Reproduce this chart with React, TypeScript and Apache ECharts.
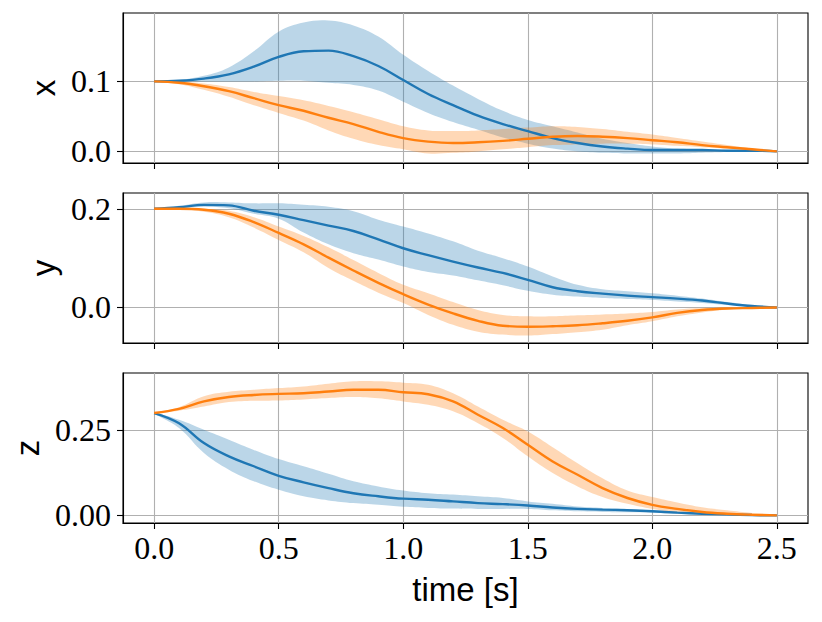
import React, { useEffect, useRef } from "react";
import * as echarts from "echarts";

// time samples [s]
const times = [0, 0.1, 0.2, 0.3, 0.4, 0.5, 0.6, 0.7, 0.8, 0.9, 1.0, 1.1, 1.2, 1.3, 1.4, 1.5, 1.6, 1.7, 1.8, 1.9, 2.0, 2.1, 2.2, 2.3, 2.4, 2.5];

// panel x
const xBlueMean = [0.100, 0.101, 0.104, 0.110, 0.121, 0.135, 0.143, 0.144, 0.136, 0.122, 0.102, 0.082, 0.066, 0.051, 0.039, 0.029, 0.019, 0.012, 0.007, 0.004, 0.002, 0.002, 0.002, 0.001, 0.001, 0.000];
const xBlueUpper = [0.100, 0.102, 0.108, 0.120, 0.143, 0.171, 0.184, 0.187, 0.180, 0.164, 0.138, 0.115, 0.094, 0.075, 0.058, 0.045, 0.036, 0.027, 0.018, 0.012, 0.007, 0.004, 0.003, 0.002, 0.001, 0.000];
const xBlueLower = [0.100, 0.100, 0.100, 0.100, 0.100, 0.101, 0.101, 0.098, 0.095, 0.087, 0.071, 0.055, 0.042, 0.031, 0.020, 0.011, 0.004, 0.000, -0.002, -0.003, -0.003, -0.003, -0.002, -0.001, -0.001, 0.000];
const xOrangeMean = [0.100, 0.098, 0.093, 0.086, 0.076, 0.066, 0.058, 0.048, 0.039, 0.028, 0.019, 0.014, 0.012, 0.013, 0.015, 0.018, 0.021, 0.022, 0.021, 0.019, 0.016, 0.013, 0.009, 0.006, 0.003, 0.000];
const xOrangeUpper = [0.100, 0.100, 0.097, 0.092, 0.085, 0.079, 0.073, 0.065, 0.056, 0.046, 0.036, 0.030, 0.029, 0.030, 0.032, 0.034, 0.036, 0.035, 0.032, 0.028, 0.024, 0.019, 0.014, 0.009, 0.004, 0.000];
const xOrangeLower = [0.100, 0.096, 0.088, 0.078, 0.066, 0.055, 0.044, 0.030, 0.018, 0.009, 0.003, -0.003, -0.002, 0.000, 0.003, 0.006, 0.009, 0.010, 0.011, 0.011, 0.010, 0.008, 0.006, 0.004, 0.002, 0.000];

// panel y
const yBlueMean = [0.200, 0.203, 0.208, 0.207, 0.196, 0.188, 0.177, 0.166, 0.155, 0.138, 0.120, 0.106, 0.093, 0.081, 0.070, 0.056, 0.041, 0.033, 0.028, 0.024, 0.021, 0.018, 0.014, 0.008, 0.003, 0.000];
const yBlueUpper = [0.200, 0.206, 0.213, 0.213, 0.211, 0.211, 0.208, 0.204, 0.195, 0.178, 0.164, 0.150, 0.134, 0.115, 0.100, 0.083, 0.063, 0.046, 0.037, 0.033, 0.029, 0.024, 0.018, 0.011, 0.005, 0.000];
const yBlueLower = [0.200, 0.201, 0.204, 0.201, 0.190, 0.180, 0.152, 0.128, 0.110, 0.097, 0.083, 0.072, 0.065, 0.055, 0.045, 0.034, 0.026, 0.022, 0.019, 0.017, 0.015, 0.012, 0.009, 0.005, 0.002, 0.000];
const yOrangeMean = [0.200, 0.200, 0.198, 0.190, 0.173, 0.151, 0.128, 0.101, 0.075, 0.050, 0.027, 0.006, -0.012, -0.027, -0.037, -0.039, -0.038, -0.036, -0.032, -0.027, -0.020, -0.011, -0.005, -0.002, -0.001, 0.000];
const yOrangeUpper = [0.200, 0.200, 0.200, 0.196, 0.183, 0.164, 0.145, 0.122, 0.096, 0.070, 0.046, 0.029, 0.011, -0.005, -0.015, -0.018, -0.018, -0.016, -0.014, -0.012, -0.009, -0.004, -0.001, 0.000, 0.000, 0.000];
const yOrangeLower = [0.200, 0.199, 0.194, 0.183, 0.162, 0.137, 0.112, 0.080, 0.054, 0.030, 0.009, -0.015, -0.035, -0.049, -0.055, -0.057, -0.054, -0.050, -0.045, -0.036, -0.028, -0.018, -0.010, -0.004, -0.001, 0.000];

// panel z
const zBlueMean = [0.300, 0.270, 0.212, 0.173, 0.144, 0.116, 0.097, 0.080, 0.065, 0.056, 0.049, 0.046, 0.041, 0.036, 0.033, 0.029, 0.023, 0.019, 0.017, 0.015, 0.012, 0.008, 0.005, 0.003, 0.001, 0.000];
const zBlueUpper = [0.300, 0.280, 0.251, 0.222, 0.192, 0.165, 0.144, 0.122, 0.100, 0.085, 0.073, 0.065, 0.061, 0.056, 0.051, 0.041, 0.034, 0.026, 0.022, 0.019, 0.015, 0.011, 0.007, 0.004, 0.002, 0.000];
const zBlueLower = [0.300, 0.256, 0.183, 0.134, 0.100, 0.075, 0.056, 0.044, 0.036, 0.031, 0.025, 0.022, 0.020, 0.019, 0.019, 0.019, 0.015, 0.012, 0.010, 0.009, 0.008, 0.005, 0.004, 0.002, 0.001, 0.000];
const zOrangeMean = [0.300, 0.312, 0.334, 0.347, 0.353, 0.356, 0.358, 0.363, 0.368, 0.368, 0.361, 0.355, 0.334, 0.295, 0.256, 0.207, 0.158, 0.119, 0.080, 0.051, 0.031, 0.019, 0.010, 0.005, 0.002, 0.000];
const zOrangeUpper = [0.300, 0.317, 0.349, 0.362, 0.368, 0.373, 0.378, 0.386, 0.393, 0.393, 0.389, 0.383, 0.358, 0.319, 0.280, 0.246, 0.200, 0.153, 0.109, 0.073, 0.054, 0.038, 0.024, 0.015, 0.007, 0.000];
const zOrangeLower = [0.300, 0.307, 0.319, 0.332, 0.336, 0.337, 0.340, 0.344, 0.347, 0.343, 0.334, 0.324, 0.305, 0.270, 0.227, 0.173, 0.124, 0.085, 0.054, 0.034, 0.019, 0.009, 0.005, 0.002, 0.001, 0.000];

// ticks / labels
const xTickValues = [0, 0.5, 1.0, 1.5, 2.0, 2.5];
const xRange = [-0.125, 2.625];
const panelNames = ["x", "y", "z"];
const panelYTicks = [[0, 0.1], [0, 0.2], [0, 0.25]];
const panelYDecimals = [1, 1, 2];
const panelYRanges = [[-0.0166, 0.1977], [-0.072, 0.232], [-0.0223, 0.4173]];
const xAxisTitle = "time [s]";

const BLUE = "#1f77b4";
const ORANGE = "#ff7f0e";
const BLUE_FILL = "rgba(31,119,180,0.3)";
const ORANGE_FILL = "rgba(255,127,14,0.3)";

const panels = [
  { bm: xBlueMean, bu: xBlueUpper, bl: xBlueLower, om: xOrangeMean, ou: xOrangeUpper, ol: xOrangeLower },
  { bm: yBlueMean, bu: yBlueUpper, bl: yBlueLower, om: yOrangeMean, ou: yOrangeUpper, ol: yOrangeLower },
  { bm: zBlueMean, bu: zBlueUpper, bl: zBlueLower, om: zOrangeMean, ou: zOrangeUpper, ol: zOrangeLower },
];

const gridTops = [13, 193, 373];
const SERIF = "'Liberation Serif', 'Times New Roman', serif";
const SANS = "'Liberation Sans', Arial, sans-serif";
const SMOOTH = 0.4;

function pairs(vals: number[]) {
  return times.map((t, i) => [t, vals[i]]);
}

function bandSeries(i: number, up: number[], lo: number[], fill: string, z: number) {
  return {
    type: "custom",
    xAxisIndex: i,
    yAxisIndex: i,
    silent: true,
    clip: true,
    z,
    data: times.map((t, j) => [t, lo[j], up[j]]),
    encode: { x: 0, y: [1, 2] },
    renderItem: (params: any, api: any) => {
      if (params.dataIndex !== 0) return null;
      const pts: number[][] = [];
      for (let j = 0; j < times.length; j++) pts.push(api.coord([times[j], up[j]]));
      for (let j = times.length - 2; j >= 1; j--) pts.push(api.coord([times[j], lo[j]]));
      return {
        type: "polygon",
        shape: { points: pts, smooth: SMOOTH },
        style: { fill, stroke: "none" },
      };
    },
  };
}

function buildOption() {
  const grid = gridTops.map((top) => ({
    left: 123,
    right: 14,
    top,
    height: 150,
    show: true,
    borderColor: "#000",
    borderWidth: 1.1,
    backgroundColor: "rgba(0,0,0,0)",
  }));

  const xAxis = panels.map((_, i) => ({
    gridIndex: i,
    type: "value",
    min: xRange[0],
    max: xRange[1],
    axisLine: { show: true, onZero: false, lineStyle: { color: "#000", width: 1.1 } },
    axisTick: { show: true, length: 6, customValues: xTickValues, lineStyle: { color: "#000", width: 1.1 } },
    axisLabel: {
      show: i === 2,
      customValues: xTickValues,
      formatter: (v: number) => v.toFixed(1),
      fontFamily: SERIF,
      fontSize: 32,
      color: "#000",
      margin: 9,
    },
    splitLine: { show: true, lineStyle: { color: "#b0b0b0", width: 1.1 } },
    name: i === 2 ? xAxisTitle : "",
    nameLocation: "middle",
    nameGap: 50,
    nameTextStyle: { fontFamily: SANS, fontSize: 33, color: "#000" },
  }));

  const yAxis = panels.map((_, i) => ({
    gridIndex: i,
    type: "value",
    min: panelYRanges[i][0],
    max: panelYRanges[i][1],
    axisLine: { show: true, onZero: false, lineStyle: { color: "#000", width: 1.1 } },
    axisTick: { show: true, length: 6, customValues: panelYTicks[i], lineStyle: { color: "#000", width: 1.1 } },
    axisLabel: {
      show: true,
      customValues: panelYTicks[i],
      formatter: (v: number) => v.toFixed(panelYDecimals[i]),
      fontFamily: SERIF,
      fontSize: 32,
      color: "#000",
      margin: 12,
    },
    splitLine: { show: true, lineStyle: { color: "#b0b0b0", width: 1.1 } },
    name: panelNames[i],
    nameLocation: "middle",
    nameRotate: 90,
    nameGap: 62,
    nameTextStyle: { fontFamily: SANS, fontSize: 33, color: "#000" },
  }));

  const series: any[] = [];
  panels.forEach((p, i) => {
    series.push(bandSeries(i, p.bu, p.bl, BLUE_FILL, 1));
    series.push(bandSeries(i, p.ou, p.ol, ORANGE_FILL, 2));
    const common = {
      type: "line",
      xAxisIndex: i,
      yAxisIndex: i,
      showSymbol: false,
      symbol: "none",
      smooth: SMOOTH,
      silent: true,
    };
    series.push({ ...common, data: pairs(p.bm), lineStyle: { color: BLUE, width: 2.4 }, z: 3 });
    series.push({ ...common, data: pairs(p.om), lineStyle: { color: ORANGE, width: 2.4 }, z: 4 });
  });

  return {
    animation: false,
    backgroundColor: "#fff",
    grid,
    xAxis,
    yAxis,
    series,
  };
}

export default function App() {
  const ref = useRef<HTMLDivElement>(null);
  useEffect(() => {
    if (!ref.current) return;
    const chart = echarts.init(ref.current, undefined, { renderer: "svg" });
    chart.setOption(buildOption() as any);
    return () => chart.dispose();
  }, []);
  return (
    <div
      ref={ref}
      style={{ position: "fixed", left: 0, top: 0, width: 822, height: 622, background: "#fff" }}
    />
  );
}
